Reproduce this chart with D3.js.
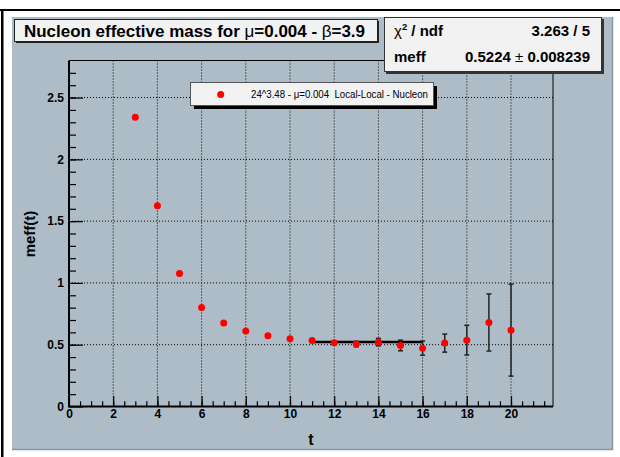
<!DOCTYPE html>
<html>
<head>
<meta charset="utf-8">
<script src="https://cdn.jsdelivr.net/npm/d3@7"></script>
<style>
  html, body { margin: 0; padding: 0; background: #fff; }
  svg { display: block; font-family: "Liberation Sans", Arial, Helvetica, sans-serif; }
</style>
</head>
<body>
<svg id="chart" width="620" height="457"></svg>
<script>
// Nucleon effective mass per time slice
const tValues   = [3, 4, 5, 6, 7, 8, 9, 10, 11, 12, 13, 14, 15, 16, 17, 18, 19, 20];
const meffValues = [2.341, 1.624, 1.076, 0.801, 0.675, 0.610, 0.572, 0.548, 0.534, 0.515,
                    0.505, 0.521, 0.494, 0.472, 0.513, 0.537, 0.680, 0.618];
const meffErrors = [0.004, 0.005, 0.004, 0.004, 0.004, 0.005, 0.006, 0.008, 0.010, 0.014,
                    0.022, 0.030, 0.043, 0.057, 0.073, 0.120, 0.231, 0.372];

// Constant fit over the plateau
const fitRange = [11, 16];
const fitValue = 0.5224;
const fitError = 0.008239;
const chi2 = 3.263;
const ndf = 5;

// Axis ticks
const xMajorTicks = [0, 2, 4, 6, 8, 10, 12, 14, 16, 18, 20];
const xMinorTicks = d3.range(0.5, 21.9, 0.5);
const yMajorTicks = [0, 0.5, 1, 1.5, 2, 2.5];
const yMinorTicks = d3.range(0.1, 2.8, 0.1);
const yTickLabels = ["0", "0.5", "1", "1.5", "2", "2.5"];

const svg = d3.select("#chart");

// Canvas decorations
svg.append("rect").attr("x", 0).attr("y", 9).attr("width", 620).attr("height", 2).attr("fill", "#000");
svg.append("rect").attr("x", 1).attr("y", 9).attr("width", 2.5).attr("height", 448).attr("fill", "#000");
svg.append("rect").attr("x", 12).attr("y", 17).attr("width", 601).attr("height", 433).attr("fill", "#adbcc6");
svg.append("path").attr("d", "M12,449.5H612.5V17").attr("fill", "none").attr("stroke", "#8797a3").attr("stroke-width", 1.5);

const frame = { left: 69, right: 553, top: 60.5, bottom: 406.5 };
const x = d3.scaleLinear().domain([0, 21.9]).range([frame.left, frame.right]);
const y = d3.scaleLinear().domain([0, 2.8]).range([frame.bottom, frame.top]);

// Grid
const grid = svg.append("g").attr("class", "grid");
grid.selectAll("line.gx").data(xMajorTicks.filter(d => d > 0)).join("line")
  .attr("x1", d => x(d)).attr("x2", d => x(d))
  .attr("y1", frame.bottom).attr("y2", frame.top)
  .attr("stroke", "#000").attr("stroke-width", 1).attr("stroke-dasharray", "1,2");
grid.selectAll("line.gy").data(yMajorTicks.filter(d => d > 0)).join("line")
  .attr("x1", frame.left).attr("x2", frame.right)
  .attr("y1", d => y(d)).attr("y2", d => y(d))
  .attr("stroke", "#000").attr("stroke-width", 1).attr("stroke-dasharray", "1,2");

// Frame top and right
svg.append("path")
  .attr("d", `M${frame.left},${frame.top}H${frame.right}V${frame.bottom}`)
  .attr("fill", "none").attr("stroke", "#000").attr("stroke-width", 1);

// Axes
const xAxisMinor = d3.axisBottom(x).tickValues(xMinorTicks).tickSize(-5.2).tickFormat("");
const xAxisMajor = d3.axisBottom(x).tickValues(xMajorTicks).tickSize(-10.4).tickPadding(3)
  .tickFormat(d3.format("d"));
const yAxisMinor = d3.axisLeft(y).tickValues(yMinorTicks).tickSize(-7).tickFormat("");
const yAxisMajor = d3.axisLeft(y).tickValues(yMajorTicks).tickSize(-14).tickPadding(5)
  .tickFormat((d, i) => yTickLabels[i]);

function styleAxis(g) {
  g.select(".domain").remove();
  g.selectAll(".tick line").attr("stroke", "#000").attr("stroke-width", 1.2);
  g.selectAll("text").attr("fill", "#000").attr("font-size", 12).attr("font-weight", "bold")
    .attr("font-family", "Liberation Sans, Arial, sans-serif");
}
svg.append("g").attr("transform", `translate(0,${frame.bottom})`).call(xAxisMinor).call(styleAxis);
svg.append("g").attr("transform", `translate(0,${frame.bottom})`).call(xAxisMajor).call(styleAxis);
svg.append("g").attr("transform", `translate(${frame.left},0)`).call(yAxisMinor).call(styleAxis);
svg.append("g").attr("transform", `translate(${frame.left},0)`).call(yAxisMajor).call(styleAxis);

svg.append("path")
  .attr("d", `M${frame.left},${frame.top}V${frame.bottom}H${frame.right}`)
  .attr("fill", "none").attr("stroke", "#000").attr("stroke-width", 2);

// Axis titles
svg.append("text").attr("x", (frame.left + frame.right) / 2).attr("y", 445)
  .attr("text-anchor", "middle").attr("font-size", 16).attr("font-weight", "bold").text("t");
svg.append("text").attr("transform", "translate(35,234) rotate(-90)")
  .attr("text-anchor", "middle").attr("font-size", 15).attr("font-weight", "bold").text("meff(t)");

// Fit line
svg.append("line")
  .attr("x1", x(fitRange[0])).attr("x2", x(fitRange[1]))
  .attr("y1", y(fitValue)).attr("y2", y(fitValue))
  .attr("stroke", "#000").attr("stroke-width", 2.6);

// Error bars and markers
const pts = tValues.map((t, i) => ({ t, v: meffValues[i], e: meffErrors[i] }));
const eb = svg.append("g").attr("stroke", "#222").attr("stroke-width", 1.5);
eb.selectAll("line.bar").data(pts).join("line")
  .attr("x1", d => x(d.t)).attr("x2", d => x(d.t))
  .attr("y1", d => y(d.v - d.e)).attr("y2", d => y(d.v + d.e));
eb.selectAll("line.capLo").data(pts).join("line")
  .attr("x1", d => x(d.t) - 2.5).attr("x2", d => x(d.t) + 2.5)
  .attr("y1", d => y(d.v - d.e)).attr("y2", d => y(d.v - d.e));
eb.selectAll("line.capHi").data(pts).join("line")
  .attr("x1", d => x(d.t) - 2.5).attr("x2", d => x(d.t) + 2.5)
  .attr("y1", d => y(d.v + d.e)).attr("y2", d => y(d.v + d.e));

svg.append("g").selectAll("circle").data(pts).join("circle")
  .attr("cx", d => x(d.t)).attr("cy", d => y(d.v)).attr("r", 3.5).attr("fill", "#ff0000");

// Legend
const leg = svg.append("g");
leg.append("rect").attr("x", 194).attr("y", 86).attr("width", 243).attr("height", 23).attr("fill", "#000");
leg.append("rect").attr("x", 190.5).attr("y", 82.5).attr("width", 243).attr("height", 23)
  .attr("fill", "#f2f2f2").attr("stroke", "#555").attr("stroke-width", 1);
leg.append("circle").attr("cx", 220.7).attr("cy", 94.5).attr("r", 3.5).attr("fill", "#ff0000");
leg.append("text").attr("x", 251).attr("y", 98).attr("font-size", 10).attr("xml:space", "preserve")
  .attr("textLength", 177).attr("lengthAdjust", "spacingAndGlyphs")
  .style("white-space", "pre").text("24^3.48 - \u03bc=0.004  Local-Local - Nucleon");

// Title box
const tb = svg.append("g");
tb.append("rect").attr("x", 16).attr("y", 21).attr("width", 363).attr("height", 22).attr("fill", "#222");
tb.append("rect").attr("x", 14.5).attr("y", 19.5).attr("width", 363).attr("height", 22)
  .attr("fill", "#f2f2f2").attr("stroke", "#222").attr("stroke-width", 1);
const tt = tb.append("text").attr("x", 24).attr("y", 36.5)
  .attr("font-size", 16.5).attr("font-weight", "bold").attr("xml:space", "preserve")
  .attr("textLength", 341).attr("lengthAdjust", "spacingAndGlyphs");
tt.append("tspan").text("Nucleon effective mass for ");
tt.append("tspan").attr("font-weight", "normal").text("\u03bc");
tt.append("tspan").text("=0.004 - ");
tt.append("tspan").attr("font-weight", "normal").text("\u03b2");
tt.append("tspan").text("=3.9");

// Fit statistics box
const sb = svg.append("g");
sb.append("rect").attr("x", 386).attr("y", 19).attr("width", 218).attr("height", 55).attr("fill", "#333");
sb.append("rect").attr("x", 384.5).attr("y", 17.5).attr("width", 217).attr("height", 54)
  .attr("fill", "#f2f2f2").attr("stroke", "#333").attr("stroke-width", 1);
const s1 = sb.append("text").attr("x", 394).attr("y", 36).attr("font-size", 15).attr("font-weight", "bold")
  .attr("xml:space", "preserve");
s1.append("tspan").attr("font-weight", "normal").text("\u03c7");
s1.append("tspan").attr("font-size", 9.5).attr("dy", -6.5).text("2");
s1.append("tspan").attr("dy", 6.5).text(" / ndf");
sb.append("text").attr("x", 590).attr("y", 36).attr("text-anchor", "end").attr("font-size", 15)
  .attr("font-weight", "bold").text(`${chi2} / ${ndf}`);
sb.append("text").attr("x", 394).attr("y", 62).attr("font-size", 15).attr("font-weight", "bold").text("meff");
const s2 = sb.append("text").attr("x", 590).attr("y", 62).attr("text-anchor", "end").attr("font-size", 15)
  .attr("font-weight", "bold").attr("xml:space", "preserve").style("white-space", "pre");
s2.append("tspan").text(fitValue.toString() + " ");
s2.append("tspan").attr("font-weight", "normal").text("\u00b1 ");
s2.append("tspan").text(fitError.toString());
</script>
</body>
</html>
